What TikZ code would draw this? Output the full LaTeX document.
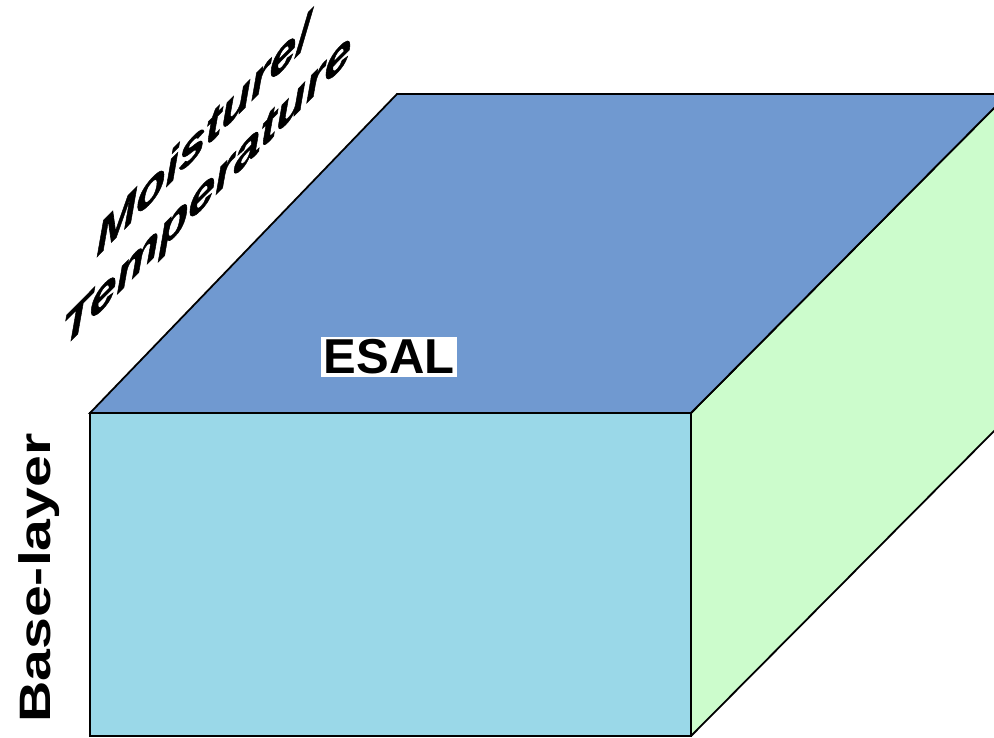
\documentclass[tikz,border=0pt]{standalone}
\usepackage{fontspec}
\setmainfont{Liberation Sans}
\newfontfamily\slantfont[FakeBold=1.2]{Liberation Sans}
\definecolor{topface}{RGB}{112,153,208}
\definecolor{frontface}{RGB}{154,216,232}
\definecolor{rightface}{RGB}{204,252,204}
\tikzset{
  face/.style={draw=black, line width=1.8pt, line join=miter},
  axislabel/.style={inner sep=0pt, anchor=base west,
    cm={1.2,1.21,0,1.1,(0,0)},
    font=\fontsize{40}{48}\slantfont\bfseries\itshape},
}
\begin{document}
\begin{tikzpicture}[x=1pt,y=-1pt]
\useasboundingbox (0,0) rectangle (994,737);
\clip (0,0) rectangle (994,737);
% corners
\coordinate (ftl) at (90,413);
\coordinate (ftr) at (691,413);
\coordinate (fbl) at (90,736);
\coordinate (fbr) at (691,736);
\coordinate (btl) at (397,94);
\coordinate (btr) at (1008,94);
\coordinate (bbr) at (1008,417);
% faces
\fill[rightface] (ftr) -- (btr) -- (bbr) -- (fbr) -- cycle;
\draw[face] (ftr) -- (btr) (bbr) -- (fbr);
\filldraw[face, fill=topface] (ftl) -- (btl) -- (btr) -- (ftr) -- cycle;
\filldraw[face, fill=frontface] (ftl) rectangle (fbr);
% labels
\node[fill=white, inner sep=3pt, font=\fontsize{49}{56}\selectfont\bfseries] (esal) at (389,357) {ESAL};
\node[axislabel] (moist) at (96,258) {Moisture/};
\node[axislabel] (temp) at (62,350) {Temperature};
\node[inner sep=0pt, anchor=base west, rotate=90, xscale=1.3, font=\fontsize{44}{50}\selectfont\bfseries] (base) at (50,723) {Base-layer};
\end{tikzpicture}
\end{document}
